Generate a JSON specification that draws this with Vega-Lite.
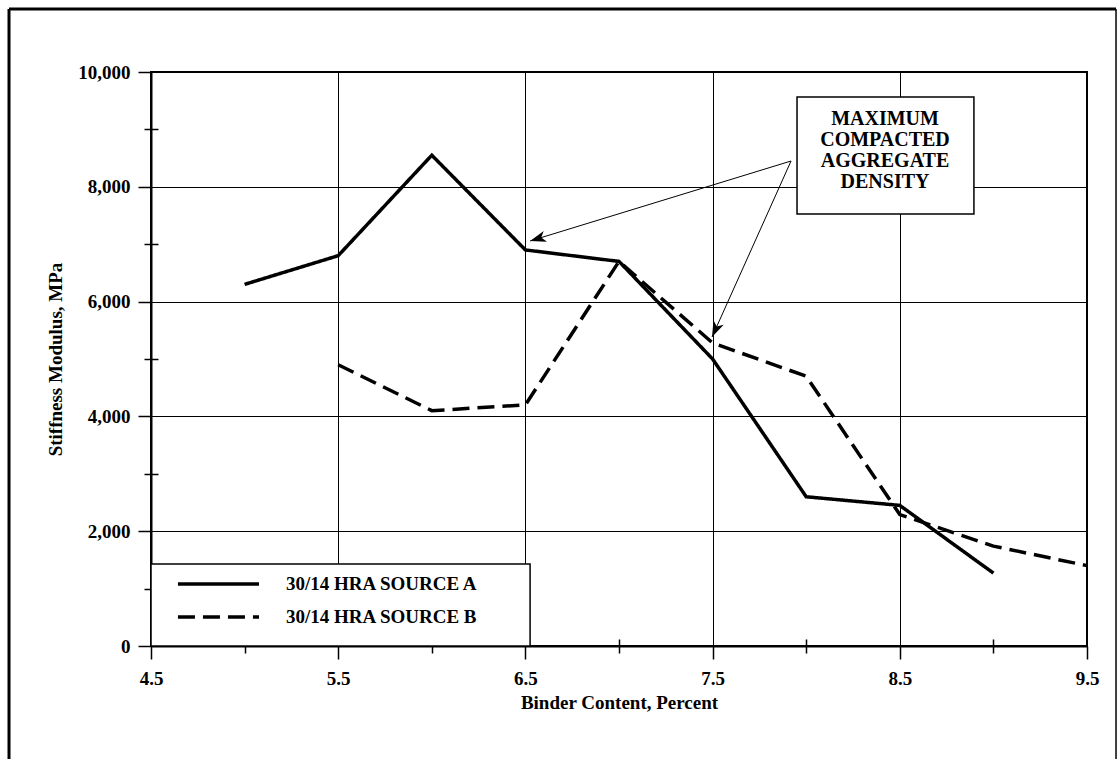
{
  "$schema": "https://vega.github.io/schema/vega-lite/v6.json",
  "width": 936,
  "height": 574,
  "autosize": "none",
  "padding": {"left": 151, "top": 72, "right": 30, "bottom": 113},
  "background": "white",
  "config": {
    "view": {"stroke": "black", "strokeWidth": 2},
    "font": "Liberation Serif",
    "axis": {
      "domainColor": "black",
      "domainWidth": 2,
      "tickColor": "black",
      "tickWidth": 1.5,
      "gridColor": "black",
      "gridWidth": 1,
      "gridOpacity": 1,
      "labelFlush": false,
      "labelFont": "Liberation Serif",
      "labelFontWeight": "bold",
      "labelFontSize": 19,
      "labelColor": "black",
      "titleFont": "Liberation Serif",
      "titleFontWeight": "bold",
      "titleFontSize": 19,
      "titleColor": "black"
    }
  },
  "datasets": {
    "stiffness": [
      {"binder": 5.0, "modulus": 6300, "source": "30/14 HRA SOURCE A"},
      {"binder": 5.5, "modulus": 6800, "source": "30/14 HRA SOURCE A"},
      {"binder": 6.0, "modulus": 8550, "source": "30/14 HRA SOURCE A"},
      {"binder": 6.5, "modulus": 6900, "source": "30/14 HRA SOURCE A"},
      {"binder": 7.0, "modulus": 6700, "source": "30/14 HRA SOURCE A"},
      {"binder": 7.5, "modulus": 5000, "source": "30/14 HRA SOURCE A"},
      {"binder": 8.0, "modulus": 2600, "source": "30/14 HRA SOURCE A"},
      {"binder": 8.5, "modulus": 2450, "source": "30/14 HRA SOURCE A"},
      {"binder": 9.0, "modulus": 1270, "source": "30/14 HRA SOURCE A"},
      {"binder": 5.5, "modulus": 4900, "source": "30/14 HRA SOURCE B"},
      {"binder": 6.0, "modulus": 4100, "source": "30/14 HRA SOURCE B"},
      {"binder": 6.5, "modulus": 4200, "source": "30/14 HRA SOURCE B"},
      {"binder": 7.0, "modulus": 6700, "source": "30/14 HRA SOURCE B"},
      {"binder": 7.5, "modulus": 5280, "source": "30/14 HRA SOURCE B"},
      {"binder": 8.0, "modulus": 4700, "source": "30/14 HRA SOURCE B"},
      {"binder": 8.5, "modulus": 2290, "source": "30/14 HRA SOURCE B"},
      {"binder": 9.0, "modulus": 1740, "source": "30/14 HRA SOURCE B"},
      {"binder": 9.5, "modulus": 1400, "source": "30/14 HRA SOURCE B"}
    ]
  },
  "resolve": {"axis": {"x": "independent", "y": "independent"}},
  "layer": [
    {
      "description": "outer frame, left side; carries the minor y ticks",
      "data": {"values": [{}]},
      "mark": {"type": "rule", "stroke": "black", "strokeWidth": 3, "clip": false},
      "encoding": {
        "x": {"datum": 3.7415, "type": "quantitative", "scale": {"domain": [4.5, 9.5], "nice": false, "zero": false}, "axis": null},
        "y": {"datum": 11097, "type": "quantitative", "scale": {"domain": [0, 10000], "nice": false},
          "axis": {"orient": "left", "values": [1000, 3000, 5000, 7000, 9000], "offset": -7, "tickSize": 14, "domain": false, "labels": false, "grid": false, "title": null}},
        "y2": {"datum": -2334}
      }
    },
    {
      "description": "outer frame, top side; carries the minor x ticks",
      "data": {"values": [{}]},
      "mark": {"type": "rule", "stroke": "black", "strokeWidth": 3, "clip": false},
      "encoding": {
        "x": {"datum": 3.7415, "type": "quantitative",
          "axis": {"orient": "bottom", "values": [5, 6, 7, 8, 9], "offset": -7, "tickSize": 14, "domain": false, "labels": false, "grid": false, "title": null}},
        "x2": {"datum": 9.655},
        "y": {"datum": 11097, "type": "quantitative", "axis": null}
      }
    },
    {
      "description": "outer frame, right side",
      "data": {"values": [{}]},
      "mark": {"type": "rule", "stroke": "black", "strokeWidth": 1.5, "clip": false},
      "encoding": {
        "x": {"datum": 9.655, "type": "quantitative", "axis": null},
        "y": {"datum": 11097, "type": "quantitative", "axis": null},
        "y2": {"datum": -2334}
      }
    },
    {
      "data": {"name": "stiffness"},
      "mark": {"type": "line", "stroke": "black", "strokeWidth": 3.5, "strokeJoin": "miter"},
      "encoding": {
        "x": {"field": "binder", "type": "quantitative",
          "axis": {"orient": "bottom", "values": [4.5, 5.5, 6.5, 7.5, 8.5, 9.5], "format": ".1f", "grid": true, "tickSize": 13, "labelPadding": 10, "title": "Binder Content, Percent", "titlePadding": 5}},
        "y": {"field": "modulus", "type": "quantitative",
          "axis": {"orient": "left", "values": [0, 2000, 4000, 6000, 8000, 10000], "format": ",.0f", "grid": true, "tickSize": 13, "labelPadding": 8, "title": "Stiffness Modulus, MPa", "titlePadding": 12}},
        "strokeDash": {"field": "source", "type": "nominal",
          "scale": {"domain": ["30/14 HRA SOURCE A", "30/14 HRA SOURCE B"], "range": [[1, 0], [17, 8]]}, "legend": null}
      }
    },
    {
      "description": "legend box",
      "data": {"values": [{}]},
      "mark": {"type": "rect", "fill": "white", "stroke": "black", "strokeWidth": 1.5},
      "encoding": {
        "x": {"datum": 4.5, "type": "quantitative", "axis": null},
        "x2": {"datum": 6.525},
        "y": {"datum": 0, "type": "quantitative", "axis": null},
        "y2": {"datum": 1429}
      }
    },
    {
      "data": {"values": [{}]},
      "mark": {"type": "rule", "stroke": "black", "strokeWidth": 3.5},
      "encoding": {
        "x": {"datum": 4.644, "type": "quantitative", "axis": null},
        "x2": {"datum": 5.077},
        "y": {"datum": 1080, "type": "quantitative", "axis": null}
      }
    },
    {
      "data": {"values": [{}]},
      "mark": {"type": "rule", "stroke": "black", "strokeWidth": 3.5, "strokeDash": [17, 8]},
      "encoding": {
        "x": {"datum": 4.644, "type": "quantitative", "axis": null},
        "x2": {"datum": 5.077},
        "y": {"datum": 505, "type": "quantitative", "axis": null}
      }
    },
    {
      "data": {"values": [{"label": "30/14 HRA SOURCE A", "row": 1080}, {"label": "30/14 HRA SOURCE B", "row": 505}]},
      "mark": {"type": "text", "align": "left", "baseline": "middle", "font": "Liberation Serif", "fontWeight": "bold", "fontSize": 19, "fill": "black"},
      "encoding": {
        "x": {"datum": 5.221, "type": "quantitative", "axis": null},
        "y": {"field": "row", "type": "quantitative", "axis": null},
        "text": {"field": "label"}
      }
    },
    {
      "description": "annotation box",
      "data": {"values": [{}]},
      "mark": {"type": "rect", "fill": "white", "stroke": "black", "strokeWidth": 1.5},
      "encoding": {
        "x": {"datum": 7.951, "type": "quantitative", "axis": null},
        "x2": {"datum": 8.896},
        "y": {"datum": 9564, "type": "quantitative", "axis": null},
        "y2": {"datum": 7526}
      }
    },
    {
      "data": {"values": [{}]},
      "mark": {"type": "text", "text": ["MAXIMUM", "COMPACTED", "AGGREGATE", "DENSITY"], "align": "center", "baseline": "alphabetic", "lineHeight": 21, "font": "Liberation Serif", "fontWeight": "bold", "fontSize": 20, "fill": "black"},
      "encoding": {
        "x": {"datum": 8.421, "type": "quantitative", "axis": null},
        "y": {"datum": 9077, "type": "quantitative", "axis": null}
      }
    },
    {
      "data": {"values": [{}]},
      "mark": {"type": "rule", "stroke": "black", "strokeWidth": 1},
      "encoding": {
        "x": {"datum": 7.919, "type": "quantitative", "axis": null},
        "y": {"datum": 8449, "type": "quantitative", "axis": null},
        "x2": {"datum": 6.525},
        "y2": {"datum": 7056}
      }
    },
    {
      "data": {"values": [{}]},
      "mark": {"type": "rule", "stroke": "black", "strokeWidth": 1},
      "encoding": {
        "x": {"datum": 7.919, "type": "quantitative", "axis": null},
        "y": {"datum": 8449, "type": "quantitative", "axis": null},
        "x2": {"datum": 7.497},
        "y2": {"datum": 5383}
      }
    },
    {
      "data": {"values": [{}]},
      "mark": {"type": "point", "shape": "M0,0 L-2,-0.7 L-1.45,0 L-2,0.7 Z", "filled": true, "fill": "black", "opacity": 1, "strokeWidth": 0, "size": 256, "angle": 162.96},
      "encoding": {
        "x": {"datum": 6.525, "type": "quantitative", "axis": null},
        "y": {"datum": 7056, "type": "quantitative", "axis": null}
      }
    },
    {
      "data": {"values": [{}]},
      "mark": {"type": "point", "shape": "M0,0 L-2,-0.7 L-1.45,0 L-2,0.7 Z", "filled": true, "fill": "black", "opacity": 1, "strokeWidth": 0, "size": 256, "angle": 114.17},
      "encoding": {
        "x": {"datum": 7.497, "type": "quantitative", "axis": null},
        "y": {"datum": 5383, "type": "quantitative", "axis": null}
      }
    }
  ]
}
